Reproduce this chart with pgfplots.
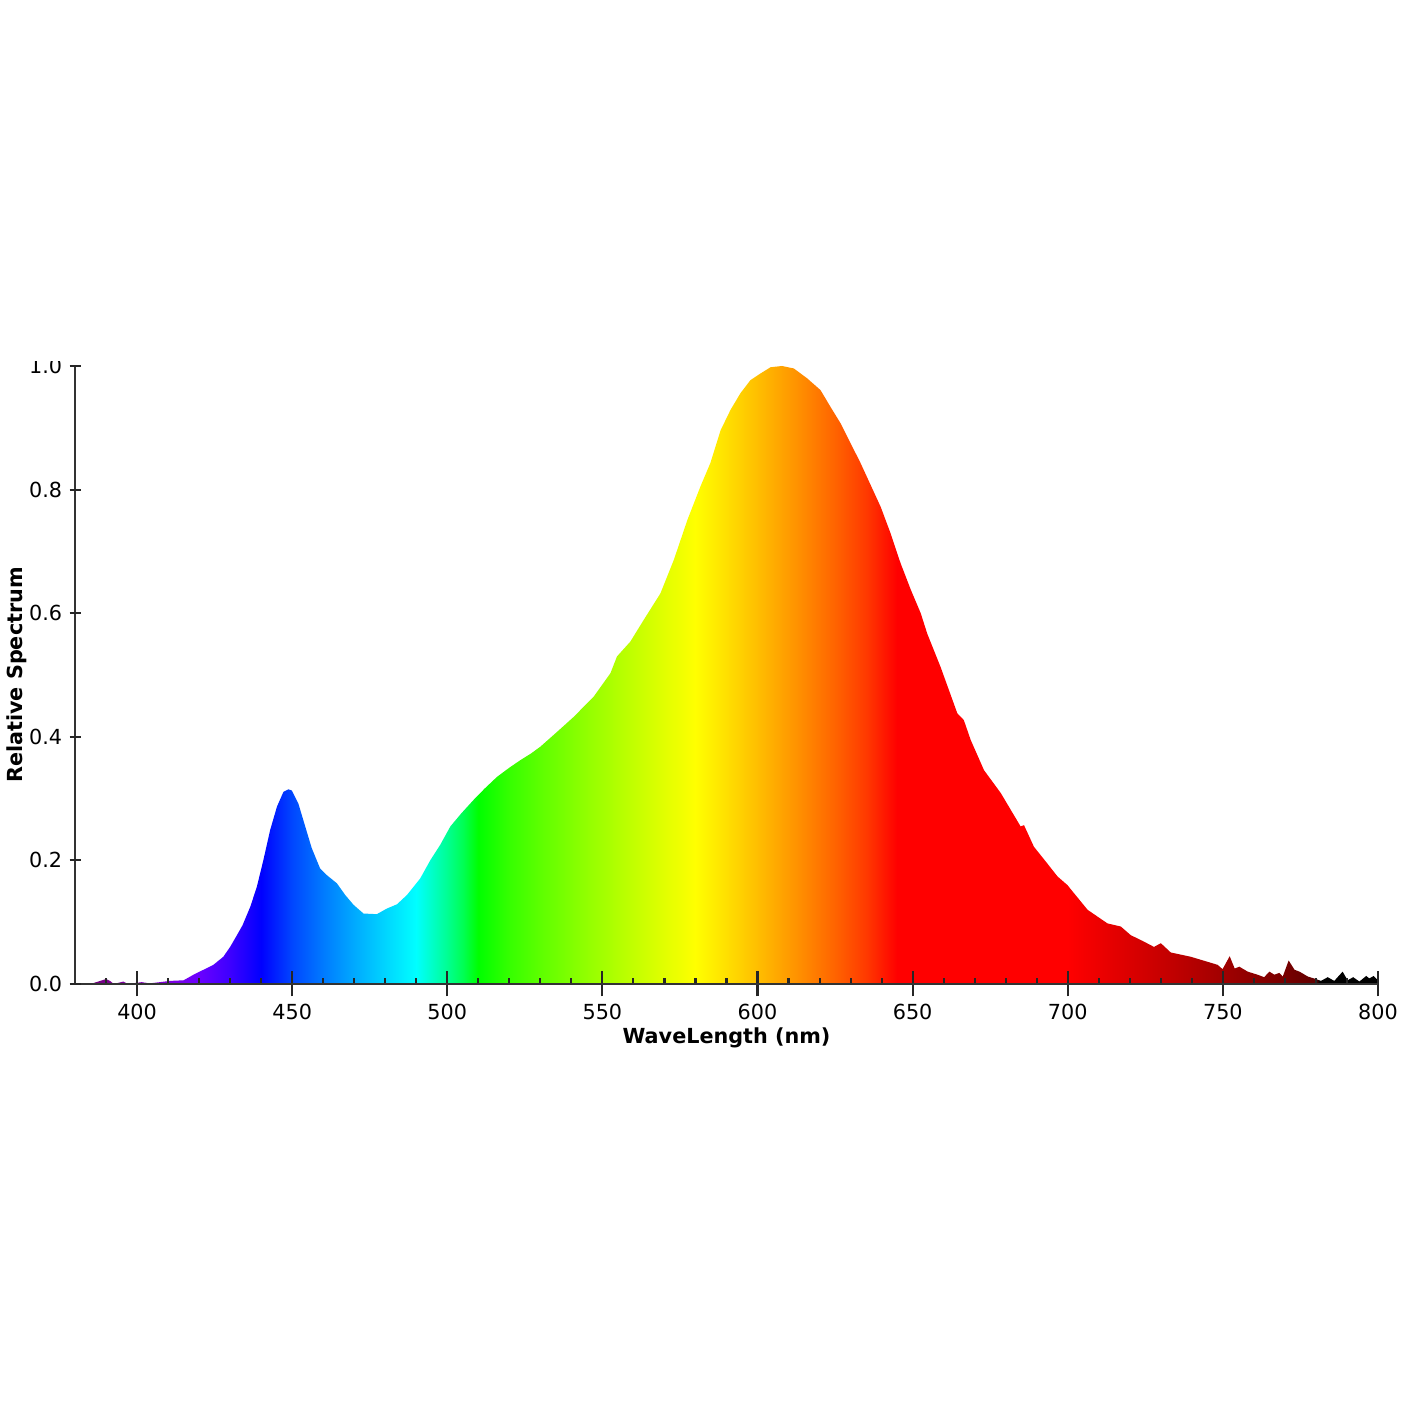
\documentclass[border=0pt]{standalone}
\usepackage{fontspec}
\setmainfont{DejaVu Sans}
\usepackage{pgfplots}
\pgfplotsset{compat=1.18}
\pgfdeclarehorizontalshading{spectrum}{100bp}{%
rgb(0bp)=(0.382,0,0.382);
rgb(25bp)=(0.382,0,0.382);
rgb(26.190bp)=(0.477,0,0.551);
rgb(27.381bp)=(0.512,0,0.708);
rgb(28.571bp)=(0.493,0,0.857);
rgb(29.762bp)=(0.415,0,1);
rgb(30.952bp)=(0.239,0,1);
rgb(32.143bp)=(0,0,1);
rgb(33.333bp)=(0,0.276,1);
rgb(34.524bp)=(0,0.480,1);
rgb(35.714bp)=(0,0.665,1);
rgb(36.905bp)=(0,0.836,1);
rgb(38.095bp)=(0,1,1);
rgb(39.286bp)=(0,1,0.574);
rgb(39.881bp)=(0,1,0.330);
rgb(40.476bp)=(0,1,0);
rgb(41.667bp)=(0.211,1,0);
rgb(42.857bp)=(0.367,1,0);
rgb(44.643bp)=(0.574,1,0);
rgb(46.429bp)=(0.764,1,0);
rgb(47.619bp)=(0.884,1,0);
rgb(48.810bp)=(1,1,0);
rgb(50.000bp)=(1,0.875,0);
rgb(51.190bp)=(1,0.745,0);
rgb(52.679bp)=(1,0.574,0);
rgb(54.167bp)=(1,0.389,0);
rgb(55.357bp)=(1,0.224,0);
rgb(56.548bp)=(1,0,0);
rgb(63.095bp)=(1,0,0);
rgb(65.476bp)=(0.857,0,0);
rgb(67.857bp)=(0.708,0,0);
rgb(70.238bp)=(0.551,0,0);
rgb(72.619bp)=(0.382,0,0);
rgb(72.738bp)=(0,0,0);
rgb(75bp)=(0,0,0);
rgb(100bp)=(0,0,0)}
\pgfplotstableread{
x v
380 0
385 0
387.5 0.004
390 0.008
391.3 0.005
392.5 0
395.6 0.004
397 0
401.5 0.003
404 0.001
407.4 0.003
410.6 0.005
415 0.006
418.2 0.015
421.4 0.023
424.6 0.031
427.8 0.044
430 0.060
432.2 0.079
434 0.095
436.5 0.125
438.6 0.157
440.7 0.200
442.9 0.249
445.1 0.287
447.2 0.311
448.8 0.315
449.9 0.313
452 0.292
454.2 0.255
456.3 0.220
459 0.187
461.2 0.176
464.4 0.163
467.1 0.144
469.8 0.128
473 0.114
477.3 0.113
480.5 0.122
483.8 0.129
487 0.144
491.3 0.171
494.5 0.200
497.7 0.225
501 0.255
504.5 0.276
508.5 0.298
512 0.316
516 0.335
520 0.350
523.5 0.362
527 0.373
530 0.384
535.4 0.408
540.7 0.432
547.2 0.465
552.6 0.503
554.7 0.530
559 0.554
563.3 0.589
568.7 0.632
573 0.686
577.4 0.751
581.6 0.805
584.8 0.843
588.1 0.896
591.3 0.929
594.5 0.956
597.7 0.977
601 0.988
604.2 0.998
607.9 1.000
611.7 0.996
616 0.980
620.3 0.961
623.5 0.934
626.8 0.907
630 0.875
633.2 0.843
636.5 0.807
639.7 0.772
642.9 0.729
646.1 0.681
649.4 0.638
652.6 0.600
654.7 0.567
659 0.513
664.4 0.438
666.5 0.427
668.7 0.395
673 0.346
678.4 0.309
684.8 0.255
685.9 0.257
689.1 0.222
693.4 0.195
696.7 0.174
699.9 0.160
702 0.147
706.4 0.120
712.8 0.098
717.1 0.093
720.3 0.079
724 0.070
727.8 0.060
730 0.066
733.2 0.051
739.7 0.044
745 0.036
748.3 0.031
749.9 0.024
752.2 0.045
753.8 0.025
755.3 0.028
758 0.020
761.2 0.015
763.3 0.011
765 0.020
766.6 0.015
768.2 0.018
769.3 0.012
771.2 0.038
773.1 0.023
774.7 0.020
777.4 0.012
780 0.008
781.6 0.005
783.8 0.011
785.9 0.005
788.6 0.020
790.2 0.006
792 0.011
794 0.004
796.2 0.013
797.2 0.009
798.6 0.013
800 0.006
}\spectrumdata
\begin{document}
\begin{tikzpicture}
\useasboundingbox (0,0) rectangle (14.2cm,14.2cm);
\begin{scope}
\clip (0,0) rectangle (14.2cm,10.58cm);
\begin{axis}[
  at={(0.75cm,4.36cm)}, anchor=south west,
  scale only axis, width=13.03cm, height=6.18cm,
  xmin=380, xmax=800, ymin=0, ymax=1,
  axis on top,
  axis x line=bottom, axis y line=left,
  axis line style={black!80, line width=0.6pt, -},
  font=\fontsize{5.9pt}{7pt}\selectfont,
  /pgf/number format/assume math mode=true,
  xtick={400,450,...,800},
  minor xtick={390,400,...,800},
  ytick=\empty,
  extra y ticks={0,0.2,0.4,0.6,0.8,1.0},
  extra y tick style={major tick length=1.1mm},
  extra y tick labels={0.0,0.2,0.4,0.6,0.8,1.0},
  tick align=center,
  major tick length=2.5mm,
  minor tick length=0.6mm,
  minor x tick style={yshift=0.3mm},
  tick style={black!85, line width=0.6pt},
  x tick label style={yshift=0.5mm},
  y tick label style={xshift=0.5mm},
  xlabel={\bfseries WaveLength (nm)},
  ylabel={\bfseries Relative Spectrum},
  every axis x label/.style={at={(axis description cs:0.5,-0.087)}, anchor=center},
  every axis y label/.style={at={(axis description cs:-0.0445,0.5)}, anchor=center, rotate=90},
]
\addplot[draw=none, shading=spectrum] table[x=x, y=v] {\spectrumdata} \closedcycle;
\end{axis}
\end{scope}
\end{tikzpicture}
\end{document}
